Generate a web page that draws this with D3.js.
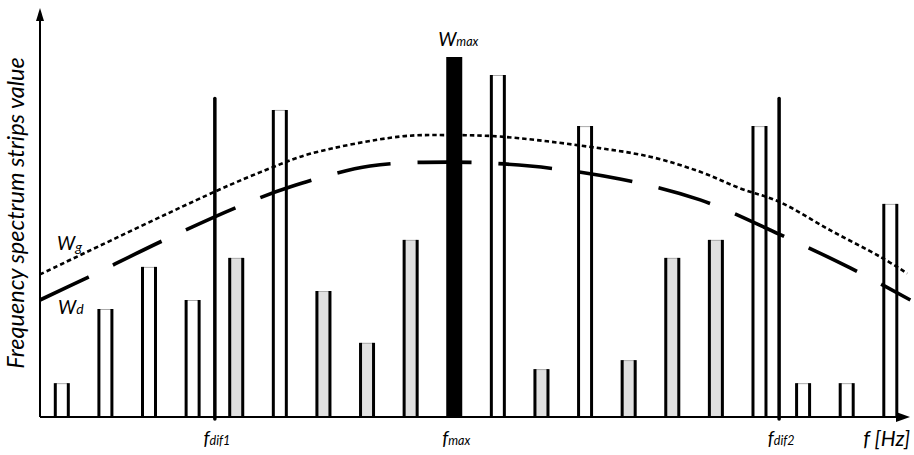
<!DOCTYPE html>
<html><head><meta charset="utf-8">
<script src="https://cdn.jsdelivr.net/npm/d3@7"></script>
<style>body{margin:0;background:#fff}svg{display:block}text{font-family:Lato,"Open Sans",sans-serif;font-style:italic;fill:#000}</style>
</head><body><svg id="c" width="914" height="455"></svg>
<script>
// ---- data ----
const barIndex = d3.range(20);
const barValues = [9.4,30,41.7,32.5,44.2,85.3,35,20.6,49.2,100,95,13.3,80.8,15.8,44.2,49.2,80.8,9.4,9.4,59.2];
const barKinds = ["white","white","white","white","gray","white","gray","gray","gray","black","white","gray","white","gray","gray","gray","white","white","white","white"];
const markerNames = ["dif1","max","dif2"];
const markerPos = [3.51, 9, 16.45];
const markerLineValue = 88.5;
const wgX = [-0.5,3.51,4.78,5.69,7.76,8.9,10.05,11.89,13.49,14.64,15.56,16.45,17.62,18.77,19.39];
const wgY = [39.6,62.6,69.1,73.1,77.9,78.3,77.9,75.4,72.3,68.1,63.5,59.8,51.9,44.5,39.9];
const wdX = [-0.5,0.6,2.32,4.04,5.23,7.07,8.9,10.74,12.8,14.64,16.45,18.08,19.46];
const wdY = [32.5,38.8,49.0,58.4,63.9,69.7,70.8,69.7,66.1,60.3,50.8,41.4,32.5];

const svg = d3.select("#c");
const x = d3.scaleLinear().domain([0,19]).range([61.8,890.3]);
const y = d3.scaleLinear().domain([0,100]).range([417,57]);
const x0 = 40, xEnd = 910, yTop = 8, y0 = y(0);
const fills = {white:"#fff", gray:"#e0e0e0", black:"#000"};
const bw = 16;

// bars
const g = svg.append("g");
barIndex.forEach(i => {
  const cx = x(i), top = y(barValues[i]);
  g.append("rect").attr("x",cx-bw/2).attr("y",top).attr("width",bw).attr("height",y0-top)
    .attr("fill",fills[barKinds[i]]);
  if (barKinds[i] !== "black") {
    g.append("line").attr("x1",cx-bw/2+1.5).attr("x2",cx+bw/2-1.5).attr("y1",top+0.5).attr("y2",top+0.5)
      .attr("stroke","#aaa").attr("stroke-width",1);
    [-1,1].forEach(s => g.append("line").attr("x1",cx+s*(bw/2-1.5)).attr("x2",cx+s*(bw/2-1.5))
      .attr("y1",top).attr("y2",y0).attr("stroke","#000").attr("stroke-width",3));
  }
});

// marker lines f_dif1, f_dif2
[0,2].forEach(k => {
  svg.append("line").attr("x1",x(markerPos[k])).attr("x2",x(markerPos[k]))
    .attr("y1",y(markerLineValue)).attr("y2",y0+2)
    .attr("stroke","#000").attr("stroke-width",3.5).attr("stroke-linecap","round");
});

// curves
const line = d3.line().x(d=>x(d[0])).y(d=>y(d[1])).curve(d3.curveCatmullRom);
svg.append("path").attr("d",line(wgX.map((v,i)=>[v,wgY[i]])))
  .attr("fill","none").attr("stroke","#000").attr("stroke-width",2.6).attr("stroke-dasharray","4.5,3");
svg.append("path").attr("d",line(wdX.map((v,i)=>[v,wdY[i]])))
  .attr("fill","none").attr("stroke","#000").attr("stroke-width",3.6).attr("stroke-dasharray","54,27");

// axes
svg.append("line").attr("x1",x0).attr("x2",x0).attr("y1",yTop+8).attr("y2",y0).attr("stroke","#000").attr("stroke-width",2);
svg.append("line").attr("x1",x0).attr("x2",xEnd-8).attr("y1",y0).attr("y2",y0).attr("stroke","#000").attr("stroke-width",2);
svg.append("path").attr("d",`M${x0},${yTop} L${x0-4},${yTop+13} L${x0+4},${yTop+13} Z`).attr("fill","#000");
svg.append("path").attr("d",`M${xEnd},${y0} L${xEnd-14},${y0-5} L${xEnd-14},${y0+5} Z`).attr("fill","#000");

// labels
function subLabel(cx, by, main, sub, mainSize, subSize, dy){
  const t = svg.append("text").attr("x",cx).attr("y",by).attr("text-anchor","middle");
  t.append("tspan").attr("font-size",mainSize).text(main);
  t.append("tspan").attr("font-size",subSize).attr("dy",dy).text(sub);
  return t;
}
markerNames.forEach((n,k)=> subLabel(x(markerPos[k])+2, 445, "f", n, 19, 12.5, 0));
subLabel(x(9)+4, 46, "W", "max", 19, 12.5, 0);
svg.append("text").attr("x",57).attr("y",250).attr("font-size",19).text("W")
  .append("tspan").attr("font-size",14).attr("dy",2).text("g");
svg.append("text").attr("x",58).attr("y",314).attr("font-size",19).text("W")
  .append("tspan").attr("font-size",14).attr("dy",0).text("d");
svg.append("text").attr("x",910).attr("y",446).attr("text-anchor","end").attr("font-size",21).text("f [Hz]");
const yt = svg.append("text").attr("transform","translate(24,213) rotate(-90)").attr("text-anchor","middle")
  .attr("font-size",20).text("Frequency spectrum strips value");
const len = yt.node().getComputedTextLength();
if (len > 0) yt.attr("font-size", Math.min(23.5, 20*318/len));
</script></body></html>
